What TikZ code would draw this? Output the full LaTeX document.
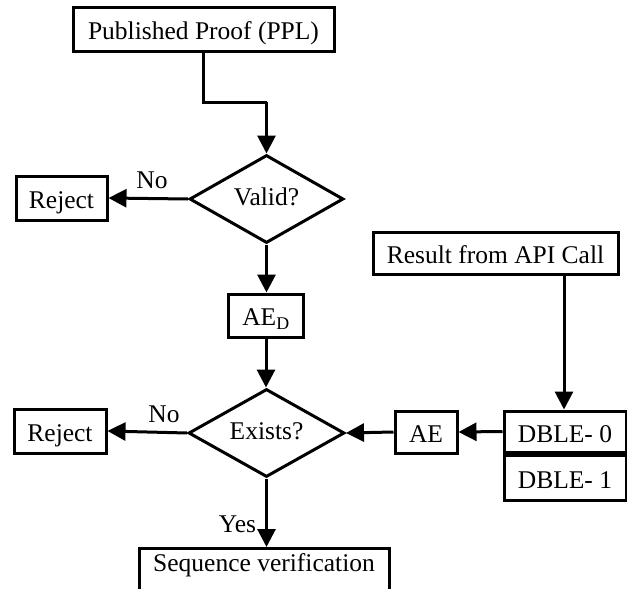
\documentclass[tikz,border=0pt]{standalone}
\usepackage{fontspec}
\setmainfont{Liberation Serif}
\usetikzlibrary{arrows.meta,shapes.geometric}
\begin{document}
\begin{tikzpicture}[x=1pt,y=-1pt,
  box/.style={draw,line width=3pt,rectangle,inner sep=0pt,font=\fontsize{25.5}{28}\selectfont,anchor=center,text height=20pt,text depth=0pt},
  dia/.style={draw,line width=3pt,diamond,inner sep=0pt,font=\fontsize{25.5}{28}\selectfont,text height=12pt,text depth=0pt},
  lbl/.style={font=\fontsize{25.5}{28}\selectfont,inner sep=0pt,anchor=base},
  arr/.style={line width=3pt,-{Triangle[length=18pt,width=18pt]}},
  ln/.style={line width=3pt}]
\useasboundingbox (0,0) rectangle (627,589);
\node[box,minimum width=261pt,minimum height=44pt] (ppl) at (203.5,29) {Published Proof (PPL)};
\node[dia,minimum width=154pt,minimum height=88pt] (valid) at (266.5,199) {Valid?};
\node[box,minimum width=91pt,minimum height=44pt] (rej1) at (61.5,198) {Reject};
\node[box,minimum width=75pt,minimum height=43pt] (aed) at (266,315.5) {AE\textsubscript{D}};
\node[dia,minimum width=156pt,minimum height=88pt] (exists) at (266.5,433) {Exists?};
\node[box,minimum width=92pt,minimum height=44pt] (rej2) at (60,431) {Reject};
\node[box,minimum width=62pt,minimum height=42pt] (ae) at (426,432) {AE};
\node[box,minimum width=122pt,minimum height=41pt,text height=22pt] (d0) at (565,431.5) {DBLE- 0};
\node[box,minimum width=122pt,minimum height=45pt,text height=22pt,anchor=north] (d1) at (d0.south) {DBLE- 1};
\node[box,minimum width=245pt,minimum height=42pt] (api) at (495.5,253) {Result from API Call};
\node[box,minimum width=250pt,minimum height=50pt,text height=0pt,text depth=4pt,anchor=north] (seq) at (264,547) {Sequence verification};
\coordinate (k1) at (203.5,102);
\coordinate (k2) at (266.5,102);
\draw[ln] (ppl.south -| k1) -- (k1) -- (k2);
\draw[arr] (k2) -- (valid.north);
\draw[arr] (valid.west) -- (rej1.east);
\node[lbl] (no1) at (152,188) {No};
\draw[arr] (valid.south) -- (valid.south |- aed.north);
\draw[arr] (aed.south) -- (aed.south |- exists.north);
\draw[arr] (exists.west) -- (rej2.east);
\node[lbl] (no2) at (164,422) {No};
\draw[arr] (d0.west) -- (ae.east);
\draw[arr] (ae.west) -- (exists.east);
\draw[arr] (api.south -| 564,0) -- (d0.north -| 564,0);
\draw[arr] (exists.south) -- (exists.south |- seq.north);
\node[lbl] (yes) at (237.5,532) {Yes};
\end{tikzpicture}
\end{document}
